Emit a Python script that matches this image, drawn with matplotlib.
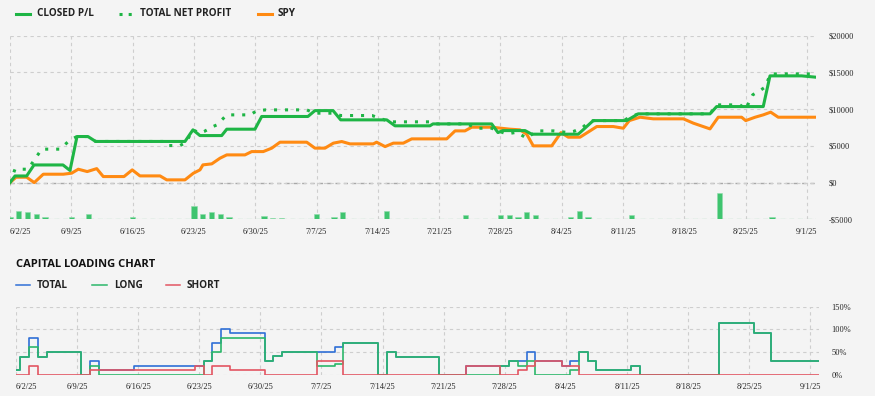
import matplotlib
matplotlib.use("Agg")
import matplotlib.pyplot as plt
from matplotlib.lines import Line2D

# ---------------- data ----------------
tick_labels = ["6/2/25", "6/9/25", "6/16/25", "6/23/25", "6/30/25", "7/7/25", "7/14/25",
               "7/21/25", "7/28/25", "8/4/25", "8/11/25", "8/18/25", "8/25/25", "9/1/25"]
tick_days = [7 * i for i in range(len(tick_labels))]

# days since 6/2/25
closed_days = [0, 0.57, 1.90, 2.74, 6.05, 6.85, 7.65, 8.90, 9.78, 19.98, 20.89, 21.69, 24.17, 24.75,
               27.97, 28.74, 34.02, 34.82, 36.89, 37.76, 43.02, 43.96, 47.95, 48.30, 55.00, 55.72,
               56.29, 58.81, 59.57, 64.89, 65.85, 66.60, 70.41, 71.74, 79.93, 80.69, 86.01, 86.78,
               90.39, 91.92]
closed_vals = [0, 900, 900, 2400, 2400, 1650, 6270, 6270, 5600, 5600, 7180, 6400, 6400, 7270,
               7270, 9000, 9000, 9800, 9800, 8540, 8540, 7730, 7730, 7990, 7990, 6810,
               7080, 7080, 6590, 6590, 7630, 8440, 8440, 9360, 9360, 10350, 10350, 14530,
               14530, 14360]

net_days = [0, 0.57, 2.05, 3.62, 5.71, 6.85, 7.65, 8.90, 9.78, 17.47, 17.81, 19.41, 20.09, 20.89,
            21.69, 22.16, 23.18, 23.63, 24.75, 27.41, 28.17, 29.20, 33.88, 34.82, 36.89, 37.76,
            41.34, 43.39, 47.95, 48.30, 52.15, 53.30, 55.00, 55.72, 56.72, 57.86, 59.00, 60.14,
            62.04, 63.75, 64.31, 65.28, 65.85, 66.60, 70.03, 70.79, 71.74, 79.93, 80.69, 83.36,
            84.01, 84.42, 84.81, 85.64, 86.21, 86.59, 86.86, 91.92]
net_vals = [0, 1820, 1820, 4550, 4550, 5800, 6270, 6270, 5600, 5600, 5040, 5040, 5470, 7180,
            6730, 6950, 7630, 7860, 9220, 9220, 9770, 9900, 9900, 9450, 9450, 9130,
            9130, 8270, 8270, 7990, 7990, 7400, 7400, 7040, 6630, 6850, 6050, 7040,
            7040, 6810, 6950, 7400, 7990, 8440, 8440, 8900, 9360, 9360, 10580, 10580,
            10000, 11030, 11950, 12530, 12990, 14080, 14800, 14800]

spy_days = [0, 0.69, 1.90, 2.77, 3.80, 6.09, 7.04, 7.80, 8.82, 9.90, 10.65, 13.02, 13.96, 14.84,
            17.13, 17.90, 19.98, 20.93, 21.69, 22.03, 23.04, 23.98, 24.75, 26.83, 27.60, 28.92,
            29.89, 30.83, 33.88, 34.82, 35.97, 36.92, 37.88, 38.82, 41.48, 41.86, 42.83, 43.77,
            44.91, 45.87, 49.87, 50.82, 51.95, 52.72, 55.00, 57.09, 58.23, 59.00, 59.75, 61.86,
            62.92, 63.75, 65.09, 66.23, 67.00, 68.89, 70.03, 70.72, 71.94, 73.46, 76.89, 78.03,
            79.93, 80.87, 83.54, 84.01, 85.08, 86.01, 86.86, 87.72, 91.92]
spy_vals = [0, 730, 730, 0, 1140, 1140, 1280, 1820, 1500, 1900, 820, 820, 1730, 910,
            910, 370, 370, 1270, 1730, 2410, 2550, 3320, 3770, 3770, 4220, 4220,
            4690, 5500, 5500, 4690, 4690, 5370, 5590, 5270, 5270, 5500, 4900, 5370,
            5370, 5950, 5950, 7040, 7040, 7540, 7540, 7270, 7180, 6590, 5000, 5000,
            6810, 6180, 6180, 7040, 7630, 7630, 7400, 8440, 8900, 8680, 8680, 8090,
            7310, 8900, 8900, 8440, 8900, 9220, 9590, 8900, 8900]

bar_days = [0, 1, 2, 3, 4, 7, 9, 14, 21, 22, 23, 24, 25, 29, 30, 31, 35, 37, 38, 43,
            52, 56, 57, 58, 59, 60, 64, 65, 66, 71, 81, 87]
bar_vals = [270, 1170, 1000, 680, 270, 270, 720, 270, 1770, 720, 1000, 720, 270, 400, 200, 200,
            720, 270, 1000, 1170, 540, 540, 540, 270, 1000, 540, 270, 1170, 270, 540, 3540, 270]
bar_base = -5000

long_days = [0, 0.5, 1.5, 2.5, 3.5, 7.5, 8.5, 9.5, 21.5, 22.5, 23.5, 28.5, 29.5, 30.5, 34.5, 36.5,
             37.5, 41.5, 42.5, 43.5, 48.5, 55.5, 56.5, 57.5, 58.5, 59.5, 63.5, 64.5, 65.5, 66.5,
             70.5, 71.5, 80.5, 84.5, 86.5, 92]
long_vals = [11, 40, 62, 40, 51, 0, 20, 0, 31, 51, 80, 31, 41, 51, 20, 24,
             71, 0, 51, 40, 0, 20, 31, 20, 30, 0, 11, 51, 30, 11,
             20, 0, 115, 92, 30, 30]

total_days = [0, 0.5, 1.5, 2.5, 3.5, 7.5, 8.5, 9.5, 13.5, 21.5, 22.5, 23.5, 24.5, 28.5, 29.5, 30.5,
              36.5, 37.5, 41.5, 42.5, 43.5, 48.5, 51.5, 56.5, 57.5, 58.5, 59.5, 62.5, 63.5, 64.5,
              65.5, 66.5, 70.5, 71.5, 80.5, 84.5, 86.5, 92]
total_vals = [11, 40, 80, 40, 51, 0, 30, 11, 20, 31, 71, 101, 92, 31, 41, 51,
              61, 71, 0, 51, 40, 0, 20, 31, 30, 51, 30, 20, 30, 51,
              30, 11, 20, 0, 115, 92, 30, 30]

short_days = [0, 1.5, 2.5, 8.5, 20.5, 21.5, 22.5, 24.5, 28.5, 34.5, 37.5, 51.5, 55.5, 57.5, 58.5,
              59.5, 62.5, 64.5, 92]
short_vals = [0, 20, 0, 11, 20, 0, 20, 11, 0, 30, 0, 20, 0, 11, 20,
              30, 20, 0, 0]

# ---------------- style ----------------
BG = "#f4f4f4"
GRID = "#cecece"
C_GREEN = "#1eb545"
C_ORANGE = "#ff8a12"
C_BAR = "#3fc46f"
C_BLUE = "#2f6fd6"
C_LONG = "#2cb76a"
C_SHORT = "#e25562"
TICK_FONT = dict(family="Liberation Serif", size=6.0, color="#262626")
LEG_FONT = dict(family=["Open Sans", "DejaVu Sans"], size=7.2, weight="bold", color="#222222")

W, H = 875, 396
fig = plt.figure(figsize=(W / 100, H / 100), dpi=100, facecolor=BG)


def fx(px):
    return px / W


def fy(py):
    return 1 - py / H


XMAX = 92


def style_axis(a):
    a.set_facecolor(BG)
    for s in a.spines.values():
        s.set_visible(False)
    a.set_xlim(0, XMAX)
    a.set_xticks(tick_days)
    a.set_xticklabels(tick_labels, fontdict=TICK_FONT)
    a.yaxis.tick_right()
    a.tick_params(axis="both", length=0)
    a.tick_params(axis="x", pad=6)
    a.tick_params(axis="y", pad=9)
    labs = a.get_xticklabels()
    labs[0].set_horizontalalignment("left")
    a.grid(True, color=GRID, linestyle=(0, (3, 3)), linewidth=0.8)


# ---------------- top chart ----------------
ax = fig.add_axes([fx(10), fy(219.3), fx(815.7) - fx(10), fy(35.7) - fy(219.3)])
ax.set_ylim(-5000, 20000)
yt = [-5000, 0, 5000, 10000, 15000, 20000]
ax.set_yticks(yt)
ax.set_yticklabels([("-$%d" % -v) if v < 0 else ("$%d" % v) for v in yt], fontdict=TICK_FONT)
style_axis(ax)
ax.axhline(0, color="#a8a8a8", linestyle=(0, (3, 3)), linewidth=1.0, zorder=1)
ax.axhline(bar_base, color="#9ad9ae", linestyle=(0, (4, 3)), linewidth=0.9, zorder=1)

ax.bar(bar_days, bar_vals, bottom=bar_base, width=0.6, color=C_BAR, edgecolor="#8fdcaa",
       linewidth=0.4, zorder=2)
ax.plot(spy_days, spy_vals, color=C_ORANGE, lw=2.2, solid_joinstyle="round", zorder=3)
ax.plot(net_days, net_vals, color=C_GREEN, lw=2.2, linestyle=(0, (1, 2.6)), zorder=4)
ax.plot(closed_days, closed_vals, color=C_GREEN, lw=2.2, solid_joinstyle="round", zorder=5)


def leg_item(x0, x1, xt, y, color, lw, ls, text, font):
    fig.add_artist(Line2D([fx(x0), fx(x1)], [fy(y), fy(y)], color=color, lw=lw, linestyle=ls,
                          transform=fig.transFigure))
    fig.text(fx(xt), fy(y), text, va="center", ha="left", **font)


leg_item(16, 30, 37, 14, C_GREEN, 2.2, "-", "CLOSED P/L", LEG_FONT)
leg_item(119, 134, 140, 14, C_GREEN, 2.2, (0, (1, 2.0)), "TOTAL NET PROFIT", LEG_FONT)
leg_item(258, 272, 278, 14, C_ORANGE, 2.2, "-", "SPY", LEG_FONT)

# ---------------- capital loading chart ----------------
fig.text(fx(16), fy(264.5), "CAPITAL LOADING CHART", va="center", ha="left",
         family=["Open Sans", "DejaVu Sans"], size=8.0, weight="bold", color="#111111")
leg_item(16, 30, 37, 285, C_BLUE, 1.1, "-", "TOTAL", LEG_FONT)
leg_item(92, 107, 114, 285, C_LONG, 1.1, "-", "LONG", LEG_FONT)
leg_item(166, 180, 187, 285, C_SHORT, 1.1, "-", "SHORT", LEG_FONT)

bx = fig.add_axes([fx(16), fy(374.7), fx(819) - fx(16), fy(306.7) - fy(374.7)])
bx.set_ylim(0, 150)
bx.set_yticks([0, 50, 100, 150])
bx.set_yticklabels(["0%", "50%", "100%", "150%"], fontdict=TICK_FONT)
style_axis(bx)

bx.plot(total_days, total_vals, drawstyle="steps-post", color=C_BLUE, lw=1.2, zorder=3)
bx.plot(long_days, long_vals, drawstyle="steps-post", color=C_LONG, lw=1.2, zorder=4)
bx.plot(short_days, short_vals, drawstyle="steps-post", color=C_SHORT, lw=1.2, zorder=5)

fig.savefig("out.png", dpi=100, facecolor=BG)
